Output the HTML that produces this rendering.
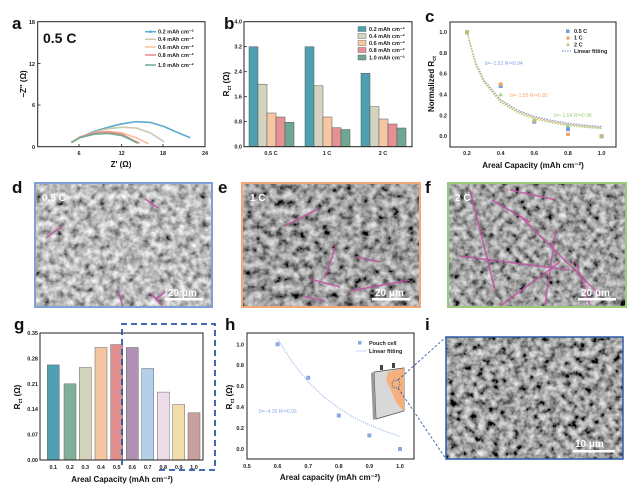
<!DOCTYPE html>
<html><head><meta charset="utf-8"><style>
html,body{margin:0;padding:0;background:#fff;}
svg{display:block;font-family:"Liberation Sans",Arial,sans-serif;}
.t{font-size:5.5px;font-weight:bold;fill:#222}
.tk{font-size:5.5px;font-weight:bold;fill:#222}
.lab{font-size:8px;font-weight:bold;fill:#111}
.pl{font-size:17px;font-weight:bold;fill:#111}
</style></head><body>
<svg width="640" height="500" viewBox="0 0 640 500" xmlns="http://www.w3.org/2000/svg">
<defs>
<filter id="sem1" x="0" y="0" width="100%" height="100%">
<feTurbulence type="fractalNoise" baseFrequency="0.14" numOctaves="3" seed="5" result="n"/>
<feColorMatrix in="n" type="matrix" values="1.3 0 0 0 -0.15  1.3 0 0 0 -0.15  1.3 0 0 0 -0.15  0 0 0 0 1"/>
</filter>
<filter id="sem2" x="0" y="0" width="100%" height="100%">
<feTurbulence type="fractalNoise" baseFrequency="0.13" numOctaves="3" seed="11" result="n"/>
<feColorMatrix in="n" type="matrix" values="1.2 0 0 0 -0.25  1.2 0 0 0 -0.25  1.2 0 0 0 -0.25  0 0 0 0 1"/>
</filter>
<filter id="sem3" x="0" y="0" width="100%" height="100%">
<feTurbulence type="fractalNoise" baseFrequency="0.15" numOctaves="3" seed="21" result="n"/>
<feColorMatrix in="n" type="matrix" values="1.2 0 0 0 -0.23  1.2 0 0 0 -0.23  1.2 0 0 0 -0.23  0 0 0 0 1"/>
</filter>
<filter id="sem4" x="0" y="0" width="100%" height="100%">
<feTurbulence type="fractalNoise" baseFrequency="0.14" numOctaves="3" seed="31" result="n"/>
<feColorMatrix in="n" type="matrix" values="1.4 0 0 0 -0.35  1.4 0 0 0 -0.35  1.4 0 0 0 -0.35  0 0 0 0 1"/>
</filter>
</defs>

<!-- ===== Panel a ===== -->
<text x="12" y="29" class="pl">a</text>
<rect x="37.7" y="21.7" width="167.3" height="125" fill="none" stroke="#222" stroke-width="1"/>
<g stroke="#222" stroke-width="0.8">
<line x1="79" y1="146.7" x2="79" y2="144"/><line x1="121.7" y1="146.7" x2="121.7" y2="144"/><line x1="163" y1="146.7" x2="163" y2="144"/>
<line x1="37.7" y1="105" x2="40.5" y2="105"/><line x1="37.7" y1="63.5" x2="40.5" y2="63.5"/>
</g>
<g class="tk" text-anchor="middle">
<text x="79" y="155">6</text><text x="121.7" y="155">12</text><text x="163" y="155">18</text><text x="205" y="155">24</text>
</g>
<g class="tk" text-anchor="end">
<text x="35" y="149">0</text><text x="35" y="107">6</text><text x="35" y="66">12</text><text x="35" y="24">18</text>
</g>
<text x="121" y="167" class="lab" text-anchor="middle">Z' (Ω)</text>
<text transform="translate(26,84) rotate(-90)" class="lab" text-anchor="middle">−Z'' (Ω)</text>
<text x="43" y="43" font-size="14" font-weight="bold" fill="#111">0.5 C</text>
<g fill="none" stroke-width="1.6">
<polyline stroke="#5aaccc" points="71.4,142.5 79.9,137.7 94,131.4 108,127.3 122,123.8 136.1,121.7 150.2,122.4 164.2,126.6 178.3,132.8 190.3,137.7"/>
<polyline stroke="#c9c9b0" points="71.4,142.5 79.9,137.7 94,132.1 108,128.7 122,127.3 136.1,128 150.2,132.8 164.2,141.8"/>
<polyline stroke="#f7c19c" points="71.4,142.5 79.9,137.7 94,132.8 108,131.4 122,132.8 136.1,137.7 148.8,143.9"/>
<polyline stroke="#e58a8a" points="71.4,142.5 79.9,137 94,132.8 108,132.1 122,134.2 132.6,139.8 139.6,143.2"/>
<polyline stroke="#6fae8e" points="71.4,142.5 79.9,137.7 94,134.2 108,133.5 122,135.6 132.6,140.5 137.5,143.2"/>
</g>
<g class="t" font-size="5">
<line x1="145" y1="31.7" x2="156" y2="31.7" stroke="#5aaccc" stroke-width="1.5"/><circle cx="150.5" cy="31.7" r="1.3" fill="#5aaccc"/><text x="158" y="33.5">0.2 mAh cm⁻²</text>
<line x1="145" y1="39.3" x2="156" y2="39.3" stroke="#c9c9b0" stroke-width="1.5"/><text x="158" y="41.1">0.4 mAh cm⁻²</text>
<line x1="145" y1="47" x2="156" y2="47" stroke="#f7c19c" stroke-width="1.5"/><text x="158" y="48.8">0.6 mAh cm⁻²</text>
<line x1="145" y1="55" x2="156" y2="55" stroke="#e58a8a" stroke-width="1.5"/><text x="158" y="56.8">0.8 mAh cm⁻²</text>
<line x1="145" y1="65" x2="156" y2="65" stroke="#6fae8e" stroke-width="1.5"/><text x="158" y="66.8">1.0 mAh cm⁻²</text>
</g>

<!-- ===== Panel b ===== -->
<text x="224" y="29" class="pl">b</text>
<g stroke="#555" stroke-width="0.5">
<rect x="249" y="46.7" width="9" height="100" fill="#4e9fb0"/>
<rect x="258" y="84.2" width="9" height="62.5" fill="#d4d3c0"/>
<rect x="267" y="113" width="9" height="33.7" fill="#f7c6a3"/>
<rect x="276" y="117" width="9" height="29.7" fill="#e39096"/>
<rect x="285" y="122.3" width="9" height="24.4" fill="#6fa890"/>
<rect x="305" y="46.7" width="9" height="100" fill="#4e9fb0"/>
<rect x="314" y="85.8" width="9" height="60.9" fill="#d4d3c0"/>
<rect x="323" y="117" width="9" height="29.7" fill="#f7c6a3"/>
<rect x="332" y="127.7" width="9" height="19" fill="#e39096"/>
<rect x="341" y="129.5" width="9" height="17.2" fill="#6fa890"/>
<rect x="361" y="73.3" width="9" height="73.4" fill="#4e9fb0"/>
<rect x="370" y="106.7" width="9" height="40" fill="#d4d3c0"/>
<rect x="379" y="119" width="9" height="27.7" fill="#f7c6a3"/>
<rect x="388" y="124" width="9" height="22.7" fill="#e39096"/>
<rect x="397" y="128" width="9" height="18.7" fill="#6fa890"/>
</g>
<rect x="244" y="21.7" width="168" height="125" fill="none" stroke="#222" stroke-width="1"/>
<g stroke="#222" stroke-width="0.8">
<line x1="244" y1="121.7" x2="247" y2="121.7"/><line x1="244" y1="96.7" x2="247" y2="96.7"/><line x1="244" y1="71.7" x2="247" y2="71.7"/><line x1="244" y1="46.7" x2="247" y2="46.7"/>
</g>
<g class="tk" text-anchor="end" font-size="5">
<text x="242" y="148.5">0.0</text><text x="242" y="123.5">0.8</text><text x="242" y="98.5">1.6</text><text x="242" y="73.5">2.4</text><text x="242" y="48.5">3.2</text><text x="242" y="23.5">4.0</text>
</g>
<g class="tk" text-anchor="middle" font-size="5">
<text x="271" y="155">0.5 C</text><text x="327" y="155">1 C</text><text x="383" y="155">2 C</text>
</g>
<text transform="translate(229,84) rotate(-90)" class="lab" text-anchor="middle">R<tspan font-size="5.5" dy="2">ct</tspan><tspan dy="-2"> (Ω)</tspan></text>
<g class="t" font-size="4.6">
<rect x="358" y="26.5" width="8" height="5" fill="#4e9fb0" stroke="#555" stroke-width="0.4"/><text x="369" y="31">0.2 mAh cm⁻²</text>
<rect x="358" y="33.5" width="8" height="5" fill="#d4d3c0" stroke="#555" stroke-width="0.4"/><text x="369" y="38">0.4 mAh cm⁻²</text>
<rect x="358" y="40.5" width="8" height="5" fill="#f7c6a3" stroke="#555" stroke-width="0.4"/><text x="369" y="45">0.6 mAh cm⁻²</text>
<rect x="358" y="47.5" width="8" height="5" fill="#e39096" stroke="#555" stroke-width="0.4"/><text x="369" y="52">0.8 mAh cm⁻²</text>
<rect x="358" y="55" width="8" height="5" fill="#6fa890" stroke="#555" stroke-width="0.4"/><text x="369" y="59.5">1.0 mAh cm⁻²</text>
</g>

<!-- ===== Panel c ===== -->
<text x="425" y="22" class="pl">c</text>
<rect x="450" y="22" width="166" height="125" fill="none" stroke="#222" stroke-width="1"/>
<g class="tk" text-anchor="middle" font-size="5">
<text x="467" y="155">0.2</text><text x="500.7" y="155">0.4</text><text x="534.3" y="155">0.6</text><text x="568" y="155">0.8</text><text x="601.6" y="155">1.0</text>
</g>
<g class="tk" text-anchor="end" font-size="5">
<text x="447" y="138">0.0</text><text x="447" y="117.3">0.2</text><text x="447" y="96.5">0.4</text><text x="447" y="75.7">0.6</text><text x="447" y="54.9">0.8</text><text x="447" y="34">1.0</text>
</g>
<text x="533" y="168" class="lab" text-anchor="middle">Areal Capacity (mAh cm⁻²)</text>
<text transform="translate(434,84) rotate(-90)" class="lab" text-anchor="middle">Normalized R<tspan font-size="5.5" dy="2">ct</tspan></text>
<g fill="none" stroke-width="1.3" stroke-dasharray="1.5,1.2">
<polyline stroke="#7fa6e4" points="467,32.3 475.4,61.7 483.8,79.9 500.7,99.8 517.5,110.1 534.3,116.4 551.1,120.4 568,123.2 584.8,125.2 601.6,126.7"/>
<polyline stroke="#f5a26a" points="467,32.3 475.4,62.7 483.8,80.9 500.7,100.8 517.5,111.1 534.3,117.4 551.1,121.4 568,124.2 584.8,126.2 601.6,127.7"/>
<polyline stroke="#9fd07a" points="467,32.3 475.4,63.9 483.8,82.3 500.7,102.3 517.5,112.6 534.3,118.8 551.1,122.7 568,125.4 584.8,127.3 601.6,128.6"/>
</g>
<g fill="#6f9ce0"><rect x="465" y="30.3" width="4" height="4"/><rect x="498.7" y="84" width="4" height="4"/><rect x="532.3" y="119.7" width="4" height="4"/><rect x="566" y="127" width="4" height="4"/><rect x="599.6" y="134.3" width="4" height="4"/></g>
<g fill="#f5a26a"><circle cx="467" cy="32.3" r="2"/><circle cx="500.7" cy="84.3" r="2"/><circle cx="534.3" cy="120.7" r="2"/><circle cx="568" cy="134.2" r="2"/><circle cx="601.6" cy="136.3" r="2"/></g>
<g fill="#9fd07a"><path d="M467,30 l2.2,3.8 h-4.4z"/><path d="M500.7,92.4 l2.2,3.8 h-4.4z"/><path d="M534.3,117.3 l2.2,3.8 h-4.4z"/><path d="M568,123.6 l2.2,3.8 h-4.4z"/><path d="M601.6,134 l2.2,3.8 h-4.4z"/></g>
<text x="485" y="65" font-size="5" fill="#7fa6e4">b=−1.51 R²=0.94</text>
<text x="510" y="97" font-size="5" fill="#f5a26a">b=−1.55 R²=0.92</text>
<text x="554" y="117" font-size="5" fill="#9fd07a">b=−1.64 R²=0.98</text>
<g class="t" font-size="5">
<rect x="566" y="29.5" width="3.5" height="3.5" fill="#6f9ce0"/><text x="574" y="33">0.5 C</text>
<circle cx="568" cy="38" r="1.8" fill="#f5a26a"/><text x="574" y="39.7">1 C</text>
<path d="M568,42.5 l2,3.4 h-4z" fill="#9fd07a"/><text x="574" y="46.3">2 C</text>
<line x1="562" y1="51" x2="572" y2="51" stroke="#7fa6e4" stroke-width="1.2" stroke-dasharray="1.5,1"/><text x="574" y="53">Linear fitting</text>
</g>

<!-- ===== Panels d e f ===== -->
<text x="12" y="193" class="pl">d</text>
<text x="218" y="193" class="pl">e</text>
<text x="425" y="193" class="pl">f</text>
<rect x="35" y="183" width="177" height="124" fill="#777" filter="url(#sem1)"/>
<rect x="242" y="183" width="178" height="124" fill="#666" filter="url(#sem2)"/>
<rect x="448" y="183" width="178" height="124" fill="#666" filter="url(#sem3)"/>
<g stroke="#c050a0" stroke-width="1.6" fill="none" opacity="0.85">
<line x1="46" y1="238" x2="62" y2="226"/><line x1="145" y1="199" x2="158" y2="208"/><line x1="155" y1="300" x2="165" y2="292"/><line x1="150" y1="293" x2="162" y2="305"/><line x1="118" y1="290" x2="123" y2="307"/>
<line x1="285" y1="226" x2="318" y2="209"/><line x1="310" y1="279" x2="340" y2="287"/><line x1="356" y1="257" x2="380" y2="262"/><line x1="350" y1="291" x2="410" y2="280"/><line x1="302" y1="296" x2="325" y2="301"/><line x1="336" y1="245" x2="325" y2="278"/>
<line x1="459" y1="256" x2="570" y2="270"/><line x1="492" y1="200" x2="530" y2="222"/><line x1="520" y1="216" x2="600" y2="295"/><line x1="556" y1="230" x2="545" y2="305"/><line x1="500" y1="306" x2="560" y2="262"/><line x1="470" y1="190" x2="495" y2="290"/><line x1="510" y1="190" x2="556" y2="200"/><line x1="575" y1="260" x2="590" y2="305"/>
</g>
<rect x="35" y="183" width="177" height="124" fill="none" stroke="#7f9fd8" stroke-width="2"/>
<rect x="242" y="183" width="178" height="124" fill="none" stroke="#f0a878" stroke-width="2"/>
<rect x="448" y="183" width="178" height="124" fill="none" stroke="#9acb7a" stroke-width="2"/>
<g font-size="10" font-weight="bold" fill="#fff">
<text x="42" y="201">0.5 C</text><text x="250" y="201">1 C</text><text x="455" y="201">2 C</text>
<text x="168" y="296">20 μm</text><text x="375" y="296">20 μm</text><text x="581" y="296">20 μm</text>
</g>
<g fill="#fff"><rect x="165" y="298" width="38" height="2.5"/><rect x="372" y="298" width="38" height="2.5"/><rect x="578" y="298" width="38" height="2.5"/></g>

<!-- ===== Panel g ===== -->
<text x="14" y="330" class="pl">g</text>
<g stroke="#666" stroke-width="0.5">
<rect x="47.3" y="364.9" width="12" height="95.1" fill="#4fa0b0"/>
<rect x="64" y="383.8" width="12" height="76.2" fill="#80b09a"/>
<rect x="79.3" y="367.5" width="12" height="92.5" fill="#d4d4bd"/>
<rect x="95" y="347.5" width="12" height="112.5" fill="#f5c4a0"/>
<rect x="110.7" y="344.6" width="12" height="115.4" fill="#e08e8e"/>
<rect x="126.3" y="347.5" width="12" height="112.5" fill="#b090b5"/>
<rect x="141.7" y="368.5" width="12" height="91.5" fill="#b3cfea"/>
<rect x="157.3" y="392.1" width="12" height="67.9" fill="#eddde8"/>
<rect x="172.7" y="404.5" width="12" height="55.5" fill="#f2dcaa"/>
<rect x="188" y="412.8" width="12" height="47.2" fill="#c9a0a0"/>
</g>
<rect x="40" y="333" width="163" height="127" fill="none" stroke="#222" stroke-width="1"/>
<g class="tk" text-anchor="end" font-size="5">
<text x="38" y="462">0.00</text><text x="38" y="436.6">0.07</text><text x="38" y="411.2">0.14</text><text x="38" y="385.8">0.21</text><text x="38" y="360.4">0.28</text><text x="38" y="335">0.35</text>
</g>
<g class="tk" text-anchor="middle" font-size="5">
<text x="53.3" y="469">0.1</text><text x="70" y="469">0.2</text><text x="85.3" y="469">0.3</text><text x="101" y="469">0.4</text><text x="116.7" y="469">0.5</text><text x="132.3" y="469">0.6</text><text x="147.7" y="469">0.7</text><text x="163.3" y="469">0.8</text><text x="178.7" y="469">0.9</text><text x="194" y="469">1.0</text>
</g>
<text x="122" y="482" class="lab" text-anchor="middle">Areal Capacity (mAh cm⁻²)</text>
<text transform="translate(20,397) rotate(-90)" class="lab" text-anchor="middle">R<tspan font-size="5.5" dy="2">ct</tspan><tspan dy="-2"> (Ω)</tspan></text>
<path d="M122,465 V324 H215 V470 H158" fill="none" stroke="#2b5aa8" stroke-width="1.8" stroke-dasharray="6,4"/>

<!-- ===== Panel h ===== -->
<text x="225" y="330" class="pl">h</text>
<rect x="247" y="333" width="167" height="126" fill="none" stroke="#222" stroke-width="1"/>
<g class="tk" text-anchor="middle" font-size="5">
<text x="247" y="468">0.5</text><text x="277.6" y="468">0.6</text><text x="308.2" y="468">0.7</text><text x="338.8" y="468">0.8</text><text x="369.4" y="468">0.9</text><text x="400" y="468">1.0</text>
</g>
<g class="tk" text-anchor="end" font-size="5">
<text x="244" y="451">0.0</text><text x="244" y="430">0.2</text><text x="244" y="409.1">0.4</text><text x="244" y="388.2">0.6</text><text x="244" y="367.2">0.8</text><text x="244" y="346.3">1.0</text>
</g>
<text x="330" y="480" class="lab" text-anchor="middle">Areal capacity (mAh cm⁻²)</text>
<text transform="translate(232,397) rotate(-90)" class="lab" text-anchor="middle">R<tspan font-size="5.5" dy="2">ct</tspan><tspan dy="-2"> (Ω)</tspan></text>
<polyline fill="none" stroke="#9ab8e8" stroke-width="1" stroke-dasharray="1.2,1" points="277.6,339 292.9,363.1 308.2,382 323.5,396.6 338.8,408.2 354.1,417.6 369.4,424.9 384.7,431.2 400,436.4"/>
<g fill="#8aa9e6"><rect x="275.6" y="342.3" width="4" height="4"/><rect x="306.2" y="375.8" width="4" height="4"/><rect x="336.8" y="413.5" width="4" height="4"/><rect x="367.4" y="433.4" width="4" height="4"/><rect x="398" y="447" width="4" height="4"/></g>
<text x="259" y="413" font-size="5" fill="#8aa9e6">b=−4.26 R²=0.93</text>
<g class="t" font-size="5">
<rect x="358" y="341" width="3.5" height="3.5" fill="#8aa9e6"/><text x="369" y="345">Pouch cell</text>
<line x1="356" y1="351" x2="366" y2="351" stroke="#9ab8e8" stroke-width="1" stroke-dasharray="1.2,1"/><text x="369" y="353">Linear fitting</text>
</g>
<polygon points="374,372 404,368 404,411 376,419" fill="#d8d8d8" stroke="#555" stroke-width="0.8"/>
<polygon points="374,372 376,419 373,420 371,373" fill="#999"/>
<polygon points="388,372 404,368 404,411 397,404 390,388 386,380" fill="#f4b07e"/>
<rect x="380" y="365" width="3" height="5" fill="#444"/><rect x="392" y="363" width="3" height="5" fill="#444"/>
<circle cx="396" cy="384" r="4" fill="none" stroke="#2b5aa8" stroke-width="0.7" stroke-dasharray="1.5,1"/>
<line x1="398" y1="380" x2="446" y2="337" stroke="#2b5aa8" stroke-width="0.9" stroke-dasharray="2.5,2"/>
<line x1="398" y1="388" x2="446" y2="459" stroke="#2b5aa8" stroke-width="0.9" stroke-dasharray="2.5,2"/>

<!-- ===== Panel i ===== -->
<text x="425" y="330" class="pl">i</text>
<rect x="446" y="337" width="177" height="122" fill="#555" filter="url(#sem4)"/>
<rect x="446" y="337" width="177" height="122" fill="none" stroke="#2b5aa8" stroke-width="1.5"/>
<text x="575" y="447" font-size="10" font-weight="bold" fill="#fff">10 μm</text>
<rect x="573" y="450" width="42" height="2.5" fill="#fff"/>
</svg>
</body></html>
